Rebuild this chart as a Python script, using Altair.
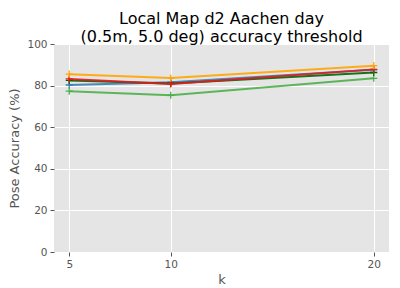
import altair as alt
import pandas as pd

k = [5, 10, 20]
series_names = ["green", "blue", "darkgreen", "red", "orange"]
series_colors = ["#4daf4a", "#377eb8", "#006400", "#e41a1c", "#ffa500"]
green = [77.3, 75.4, 83.5]
blue = [80.3, 81.6, 87.6]
darkgreen = [82.5, 81.0, 86.3]
red = [83.2, 80.8, 87.8]
orange = [85.5, 83.6, 89.6]
values = [green, blue, darkgreen, red, orange]

rows = []
for name, vals in zip(series_names, values):
    for kk, v in zip(k, vals):
        rows.append({"k": kk, "acc": v, "series": name})
df = pd.DataFrame(rows)

plus = "M-1,0L1,0M0,-1L0,1"

xenc = alt.X("k:Q", scale=alt.Scale(domain=[4.25, 20.75], nice=False, zero=False),
             axis=alt.Axis(values=k, title="k", grid=True))
yenc = alt.Y("acc:Q", scale=alt.Scale(domain=[0, 100], nice=False),
             axis=alt.Axis(values=[0, 20, 40, 60, 80, 100], title="Pose Accuracy (%)"))

layers = []
for name, col in zip(series_names, series_colors):
    base = alt.Chart(df).transform_filter(alt.datum.series == name)
    layers.append(base.mark_line(color=col, strokeWidth=2, opacity=0.9).encode(x=xenc, y=yenc))
    layers.append(base.mark_point(shape=plus, color=col, size=50, strokeWidth=1.3,
                                  filled=False, opacity=1).encode(x=xenc, y=yenc))

chart = alt.layer(*layers).properties(
    width=335, height=208,
    title=alt.TitleParams(text=["Local Map d2 Aachen day", "(0.5m, 5.0 deg) accuracy threshold"],
                          fontSize=16, font="DejaVu Sans", fontWeight="normal", color="black",
                          anchor="middle", offset=-6, lineHeight=18.5),
    autosize=alt.AutoSizeParams(type="none"),
    padding={"left": 46, "top": 36, "right": 3, "bottom": 36},
).configure_view(fill="#e5e5e5", stroke=None).configure_axis(
    domain=False, gridColor="white", gridWidth=1, tickColor="#555555", tickSize=4,
    labelColor="#555555", labelFontSize=10.5, labelFont="DejaVu Sans", labelPadding=3,
    titleColor="#555555", titleFontSize=13, titleFont="DejaVu Sans", titleFontWeight="normal",
).configure_axisY(titlePadding=5).configure_axisX(titlePadding=4)

chart.save("out.html", embed_options={"renderer": "svg", "actions": False})
